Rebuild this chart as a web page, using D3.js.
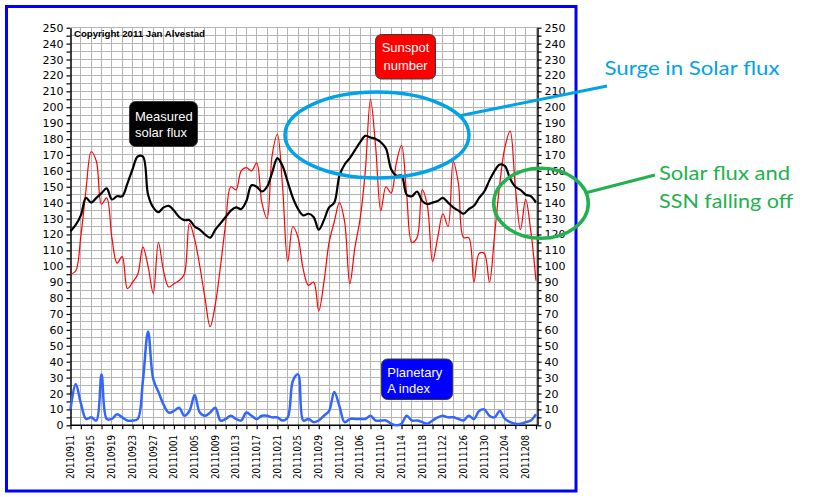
<!DOCTYPE html>
<html>
<head>
<meta charset="utf-8">
<script src="https://cdn.jsdelivr.net/npm/d3@7"></script>
<style>
  body { margin: 0; background: #fff; }
  svg { display: block; }
</style>
</head>
<body>
<svg id="chart" width="819" height="497"></svg>
<script>
// daily values, 11 Sep 2011 .. 10 Dec 2011
const dateLabels = ["20110911", "20110915", "20110919", "20110923", "20110927", "20111001",
    "20111005", "20111009", "20111013", "20111017", "20111021", "20111025", "20111029",
    "20111102", "20111106", "20111110", "20111114", "20111118", "20111122", "20111126",
    "20111130", "20111204", "20111208"];

const sunspot = [95, 97, 119, 148, 172, 166, 139, 143, 118, 102,
    106, 86, 90, 95, 112, 100, 83, 115, 97, 87,
    89, 91, 95, 127, 117, 100, 80, 62, 76, 100,
    127, 150, 148, 160, 162, 160, 165, 140, 130, 170,
    183, 150, 103, 125, 118, 98, 88, 90, 72, 90,
    115, 128, 140, 128, 89, 112, 130, 160, 205, 175,
    135, 150, 146, 165, 176, 145, 115, 118, 148, 138,
    103, 118, 133, 125, 166, 152, 118, 118, 90, 108,
    108, 90, 120, 152, 175, 185, 150, 123, 142, 122,
    91];

const solarFlux = [122, 126, 132, 143, 140, 143, 146, 149, 142, 144,
    144, 152, 161, 169, 169, 145, 137, 134, 137, 138,
    135, 131, 129, 129, 125, 123, 120, 118, 123, 127,
    131, 135, 137, 136, 141, 151, 150, 147, 150, 159,
    168, 163, 153, 143, 136, 132, 133, 131, 123, 129,
    137, 140, 157, 164, 168, 173, 178, 182, 181, 180,
    178, 174, 161, 157, 157, 145, 144, 147, 141, 139,
    140, 141, 143, 140, 137, 135, 133, 136, 138, 143,
    147, 154, 160, 164, 163, 155, 150, 148, 145, 144,
    140];

const aIndex = [10, 26, 14, 4, 5, 3, 32, 4, 4, 7,
    5, 3, 3, 4, 28, 59, 29, 21, 13, 8,
    9, 11, 6, 9, 19, 8, 6, 8, 11, 3,
    4, 6, 4, 3, 8, 6, 4, 6, 6, 5,
    5, 3, 5, 28, 32, 3, 4, 2, 3, 6,
    9, 21, 12, 2, 4, 4, 4, 4, 6, 3,
    3, 3, 1, 0, 1, 6, 3, 3, 2, 1,
    3, 5, 6, 5, 5, 4, 3, 6, 4, 9,
    10, 6, 5, 9, 4, 2, 1, 1, 2, 3,
    7];

const yLabels = [0, 10, 20, 30, 40, 50, 60, 70, 80, 90, 100, 110, 120, 130, 140, 150,
    160, 170, 180, 190, 200, 210, 220, 230, 240, 250];

const svg = d3.select("#chart");
const plotL = 70.5, plotR = 537.5, plotT = 27.7, plotB = 425.3;

const x = d3.scaleLinear().domain([0, sunspot.length - 1]).range([plotL, 536]);
const y = d3.scaleLinear().domain([0, 250]).range([plotB, plotT]);

svg.append("rect").attr("width", 819).attr("height", 497).attr("fill", "#fff");

// blue frame
svg.append("rect")
    .attr("x", 6.5).attr("y", 6.5).attr("width", 569.5).attr("height", 484.5)
    .attr("fill", "none").attr("stroke", "#0000ff").attr("stroke-width", 3);

// grid
const minorY = d3.range(5, 251, 5);
const grid = svg.append("g").attr("stroke", "#b4b4b4").attr("stroke-width", 1)
    .attr("shape-rendering", "crispEdges");
grid.selectAll("line.h").data(minorY).enter().append("line")
    .attr("x1", plotL).attr("x2", plotR)
    .attr("y1", d => y(d)).attr("y2", d => y(d));
grid.selectAll("line.v").data(d3.range(2, sunspot.length, 2)).enter().append("line")
    .attr("x1", d => x(d)).attr("x2", d => x(d))
    .attr("y1", plotT).attr("y2", plotB);

// axes
const tickFmt = d => yLabels.includes(d) ? d : "";
const axisL = svg.append("g").attr("transform", `translate(${plotL},0)`)
    .call(d3.axisLeft(y).tickValues(d3.range(0, 251, 5)).tickFormat(tickFmt)
        .tickSize(4).tickSizeOuter(0).tickPadding(3));
const axisR = svg.append("g").attr("transform", `translate(${plotR},0)`)
    .call(d3.axisRight(y).tickValues(d3.range(0, 251, 5)).tickFormat(tickFmt)
        .tickSize(4).tickSizeOuter(0).tickPadding(3));
const axisB = svg.append("g").attr("transform", `translate(0,${plotB})`)
    .call(d3.axisBottom(x).tickValues(d3.range(0, sunspot.length, 2)).tickFormat("")
        .tickSize(4).tickSizeOuter(0));
axisB.select(".domain").attr("d", `M${plotL},0H${plotR}`);

[axisL, axisR, axisB].forEach(a => {
    a.select(".domain").attr("stroke", "#000").attr("stroke-width", 1.5);
    a.selectAll(".tick line").attr("stroke", "#000").attr("stroke-width", 1.2);
    a.selectAll("text").attr("fill", "#000")
        .style("font-family", "'DejaVu Sans', Verdana, sans-serif").style("font-size", "11px");
});

svg.append("g").selectAll("text").data(dateLabels).enter().append("text")
    .attr("transform", (d, i) => `translate(${x(i * 4) + 3.3},435) rotate(-90)`)
    .attr("text-anchor", "end")
    .attr("textLength", 44).attr("lengthAdjust", "spacingAndGlyphs")
    .style("font-family", "'DejaVu Sans', Verdana, sans-serif").style("font-size", "10px")
    .attr("fill", "#000")
    .text(d => d);

// series
const line = d3.line().x((d, i) => x(i)).y(d => y(d)).curve(d3.curveCatmullRom.alpha(0.5));
svg.append("path").datum(aIndex).attr("d", line)
    .attr("fill", "none").attr("stroke", "#3366ff").attr("stroke-width", 2.5);
svg.append("path").datum(sunspot).attr("d", line)
    .attr("fill", "none").attr("stroke", "#ff0000").attr("stroke-width", 1.2);
svg.append("path").datum(solarFlux).attr("d", line)
    .attr("fill", "none").attr("stroke", "#000").attr("stroke-width", 2.2);

// copyright
svg.append("text").attr("x", 74).attr("y", 37)
    .attr("textLength", 131).attr("lengthAdjust", "spacingAndGlyphs")
    .style("font-family", "'Liberation Sans', Arial, sans-serif").style("font-size", "9.5px")
    .style("font-weight", "bold").text("Copyright 2011 Jan Alvestad");

// labelled boxes
function labelBox(bx, by, bw, bh, fill, lines, tx, anchor, baselines) {
    svg.append("rect").attr("x", bx).attr("y", by).attr("width", bw).attr("height", bh)
        .attr("rx", 6).attr("fill", fill).attr("stroke", "#3a3a3a").attr("stroke-width", 1);
    lines.forEach((t, i) => {
        svg.append("text").attr("x", tx).attr("y", baselines[i])
            .attr("text-anchor", anchor).attr("fill", "#fff")
            .style("font-family", "'Liberation Sans', Arial, sans-serif").style("font-size", "13px")
            .text(t);
    });
}
labelBox(129.5, 101.5, 68, 45, "#000", ["Measured", "solar flux"], 135, "start", [120.5, 136.5]);
labelBox(375.5, 34.5, 60, 44.5, "#ff0000", ["Sunspot", "number"], 405.5, "middle", [52.3, 69.5]);
labelBox(381.5, 359, 71, 40.5, "#0000ff", ["Planetary", "A index"], 387.3, "start", [377.3, 393.3]);

// callouts
const blueNote = "#00a2e8", greenNote = "#22b14c";
svg.append("ellipse").attr("cx", 377).attr("cy", 135).attr("rx", 92).attr("ry", 43)
    .attr("fill", "none").attr("stroke", blueNote).attr("stroke-width", 3.5);
svg.append("line").attr("x1", 461).attr("y1", 115.5).attr("x2", 607).attr("y2", 86)
    .attr("stroke", blueNote).attr("stroke-width", 3);
svg.append("text").attr("x", 604.5).attr("y", 74.5)
    .attr("textLength", 175).attr("lengthAdjust", "spacingAndGlyphs")
    .attr("fill", blueNote).style("font-family", "Lato, 'Open Sans', sans-serif")
    .style("font-size", "20px").text("Surge in Solar flux");

svg.append("ellipse").attr("cx", 541).attr("cy", 203.3).attr("rx", 47.3).attr("ry", 35)
    .attr("fill", "none").attr("stroke", greenNote).attr("stroke-width", 3.5);
svg.append("line").attr("x1", 587).attr("y1", 192.5).attr("x2", 655).attr("y2", 175)
    .attr("stroke", greenNote).attr("stroke-width", 3);
[["Solar flux and", 180, 131], ["SSN falling off", 208.3, 134]].forEach(([t, by, w]) => {
    svg.append("text").attr("x", 659).attr("y", by)
        .attr("textLength", w).attr("lengthAdjust", "spacingAndGlyphs")
        .attr("fill", greenNote).style("font-family", "Lato, 'Open Sans', sans-serif")
        .style("font-size", "20px").text(t);
});
</script>
</body>
</html>
